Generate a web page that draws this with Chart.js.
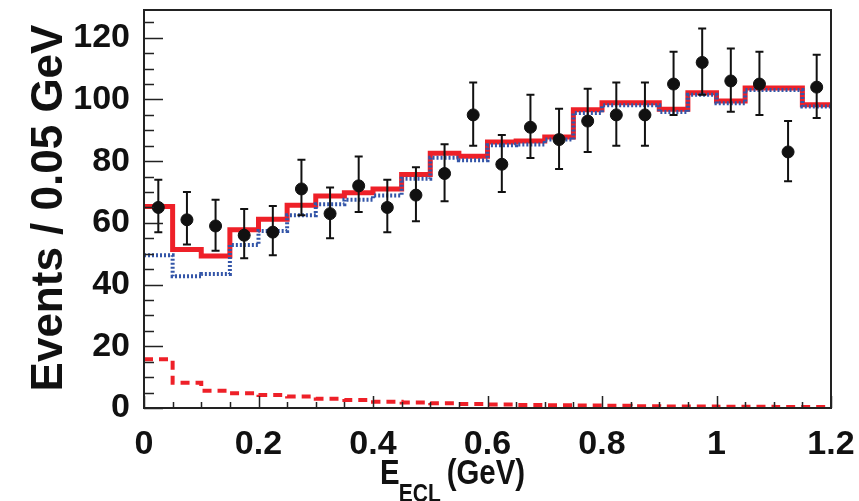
<!DOCTYPE html>
<html>
<head>
<meta charset="utf-8">
<script src="https://cdn.jsdelivr.net/npm/chart.js@4.4.1/dist/chart.umd.min.js"></script>
<style>
  html, body { margin: 0; padding: 0; background: #fff; }
  #wrap { width: 859px; height: 501px; }
</style>
</head>
<body>
<div id="wrap"><canvas id="chart"></canvas></div>
<script>
// bins of 0.05 GeV
const binEdges = [0, 0.05, 0.1, 0.15, 0.2, 0.25, 0.3, 0.35, 0.4, 0.45, 0.5, 0.55, 0.6,
                  0.65, 0.7, 0.75, 0.8, 0.85, 0.9, 0.95, 1, 1.05, 1.1, 1.15, 1.2];
const binCenters = [0.025, 0.075, 0.125, 0.175, 0.225, 0.275, 0.325, 0.375, 0.425, 0.475, 0.525, 0.575,
                    0.625, 0.675, 0.725, 0.775, 0.825, 0.875, 0.925, 0.975, 1.025, 1.075, 1.125, 1.175];

// data points and errors
const dataCounts = [65, 61, 59, 56, 57, 71, 63, 72, 65, 69, 76, 95,
                    79, 91, 87, 93, 95, 95, 105, 112, 106, 105, 83, 104];
const errUp   = [9, 9, 8.5, 8.5, 8.5, 9.5, 8.5, 9.5, 9, 9, 9.5, 10.5,
                 9.5, 10.5, 10, 10.5, 10.5, 10.5, 10.5, 11, 10.5, 10.5, 10, 10.5];
const errDown = [8, 8, 8, 7.5, 7.5, 8.5, 8, 8.5, 8, 8.5, 9, 10,
                 9, 10, 9.5, 10, 10, 10, 10, 10.5, 10, 10, 9.5, 10];

// fit components
const fitTotal = [65.3, 51.4, 49.3, 57.8, 61.2, 65.7, 68.7, 69.8, 71.0, 75.7, 82.6, 81.6,
                  86.2, 86.5, 87.8, 96.7, 98.9, 98.9, 96.8, 102.2, 99.5, 103.7, 103.7, 98.3];
const fitSignal = [49.5, 42.7, 43.4, 52.8, 57.4, 62.5, 66.0, 67.5, 68.9, 74.3, 81.1, 80.3,
                   85.2, 85.4, 87.0, 95.6, 98.1, 98.1, 95.9, 101.5, 98.8, 103.1, 103.1, 97.7];
const fitBackground = [15.8, 8.2, 5.6, 4.8, 4.2, 3.7, 3.0, 2.6, 2.0, 1.8, 1.5, 1.3,
                       1.1, 1.0, 0.9, 0.8, 0.7, 0.6, 0.5, 0.5, 0.4, 0.4, 0.3, 0.3];

const xTicks = [0, 0.2, 0.4, 0.6, 0.8, 1, 1.2];
const yTicks = [0, 20, 40, 60, 80, 100, 120];
const yMinorTicks = [5, 10, 15, 25, 30, 35, 45, 50, 55, 65, 70, 75, 85, 90, 95, 105, 110, 115, 125];

const FONT = "'Liberation Sans', Arial, Helvetica, sans-serif";

function stepPoints(values) {
    const pts = values.map((v, i) => ({ x: binEdges[i], y: v }));
    pts.push({ x: binEdges[values.length], y: values[values.length - 1] });
    return pts;
}

// frame, inner ticks, error bars, axis titles
const rootStyle = {
    id: 'rootStyle',
    beforeDatasetDraw(chart, args) {
        if (args.index !== 0) return;
        const ctx = chart.ctx;
        const xs = chart.scales.x, ys = chart.scales.y;
        ctx.save();
        ctx.strokeStyle = '#111';
        ctx.lineWidth = 2;
        binCenters.forEach((c, i) => {
            const px = xs.getPixelForValue(c);
            const top = ys.getPixelForValue(dataCounts[i] + errUp[i]);
            const bot = ys.getPixelForValue(dataCounts[i] - errDown[i]);
            ctx.beginPath();
            ctx.moveTo(px, top); ctx.lineTo(px, bot);
            ctx.moveTo(px - 4, top); ctx.lineTo(px + 4, top);
            ctx.moveTo(px - 4, bot); ctx.lineTo(px + 4, bot);
            ctx.stroke();
        });
        ctx.restore();
    },
    afterDatasetsDraw(chart) {
        const ctx = chart.ctx;
        const a = chart.chartArea;
        const xs = chart.scales.x, ys = chart.scales.y;
        ctx.save();
        ctx.strokeStyle = '#222';
        ctx.lineWidth = 1.5;
        ctx.beginPath();
        binEdges.forEach(v => {
            const px = Math.round(xs.getPixelForValue(v)) + 0.5;
            const len = xTicks.includes(v) ? 12 : 6;
            ctx.moveTo(px, a.bottom); ctx.lineTo(px, a.bottom - len);
        });
        yTicks.forEach(v => {
            const py = Math.round(ys.getPixelForValue(v)) + 0.5;
            ctx.moveTo(a.left, py); ctx.lineTo(a.left + 19, py);
        });
        yMinorTicks.forEach(v => {
            const py = Math.round(ys.getPixelForValue(v)) + 0.5;
            ctx.moveTo(a.left, py); ctx.lineTo(a.left + 10, py);
        });
        ctx.stroke();
        ctx.lineWidth = 2;
        ctx.strokeRect(a.left, a.top, a.right - a.left, a.bottom - a.top);
        ctx.restore();
    },
    afterDraw(chart) {
        const ctx = chart.ctx;
        const a = chart.chartArea;
        ctx.save();
        ctx.fillStyle = '#111';
        // y title
        ctx.translate(62, 208);
        ctx.rotate(-Math.PI / 2);
        ctx.font = 'bold 44px ' + FONT;
        ctx.textAlign = 'center';
        ctx.textBaseline = 'alphabetic';
        ctx.fillText('Events / 0.05 GeV', 0, 0);
        ctx.restore();

        // x title with subscript, slightly condensed
        ctx.save();
        ctx.fillStyle = '#111';
        ctx.textAlign = 'left';
        ctx.textBaseline = 'alphabetic';
        ctx.translate(a.left + 236, 484);
        ctx.scale(0.84, 1);
        let x = 0;
        ctx.font = 'bold 35px ' + FONT;
        ctx.fillText('E', x, 0);
        x += ctx.measureText('E').width - 1;
        ctx.font = 'bold 25px ' + FONT;
        ctx.fillText('ECL', x, 18);
        x += ctx.measureText('ECL').width + 7;
        ctx.font = 'bold 35px ' + FONT;
        ctx.fillText('(GeV)', x, 0);
        ctx.restore();
    }
};

const chart = document.querySelector('#chart').getContext('2d');

new Chart(chart, {
    type: 'scatter',
    data: {
        datasets: [
            {
                label: 'Data',
                data: binCenters.map((c, i) => ({ x: c, y: dataCounts[i] })),
                backgroundColor: '#111',
                borderColor: '#111',
                pointRadius: 6,
                order: 0
            },
            {
                label: 'Signal',
                data: stepPoints(fitSignal),
                showLine: true,
                stepped: 'before',
                pointRadius: 0,
                borderColor: '#3355a8',
                borderWidth: 4,
                borderDash: [2, 2],
                order: 1
            },
            {
                label: 'Background',
                data: stepPoints(fitBackground),
                showLine: true,
                stepped: 'before',
                pointRadius: 0,
                borderColor: '#ee2028',
                borderWidth: 4,
                borderDash: [9, 6],
                order: 2
            },
            {
                label: 'Total',
                data: stepPoints(fitTotal),
                showLine: true,
                stepped: 'before',
                pointRadius: 0,
                borderColor: '#ee2028',
                borderWidth: 5,
                order: 3
            }
        ]
    },
    options: {
        responsive: true,
        maintainAspectRatio: false,
        animation: false,
        layout: { padding: { top: 10, right: 28, bottom: 0, left: 0 } },
        plugins: {
            legend: { display: false },
            tooltip: { enabled: false }
        },
        scales: {
            x: {
                type: 'linear',
                min: 0,
                max: 1.2,
                grid: { display: false },
                border: { display: false },
                ticks: {
                    color: '#111',
                    padding: 8,
                    font: { family: FONT, size: 34, weight: 'bold' },
                    maxRotation: 0,
                    callback: v => String(v)
                },
                afterBuildTicks: s => { s.ticks = xTicks.map(v => ({ value: v })); },
                afterFit: s => { s.height = 93; s.paddingLeft = 0; s.paddingRight = 0; }
            },
            y: {
                min: 0,
                max: 129,
                grid: { display: false },
                border: { display: false },
                ticks: {
                    color: '#111',
                    padding: 6,
                    font: { family: FONT, size: 34, weight: 'bold' },
                    callback: v => String(v)
                },
                afterBuildTicks: s => { s.ticks = yTicks.map(v => ({ value: v })); },
                afterFit: s => { s.width = 144; s.paddingTop = 0; s.paddingBottom = 0; }
            }
        }
    },
    plugins: [rootStyle]
});
</script>
</body>
</html>
